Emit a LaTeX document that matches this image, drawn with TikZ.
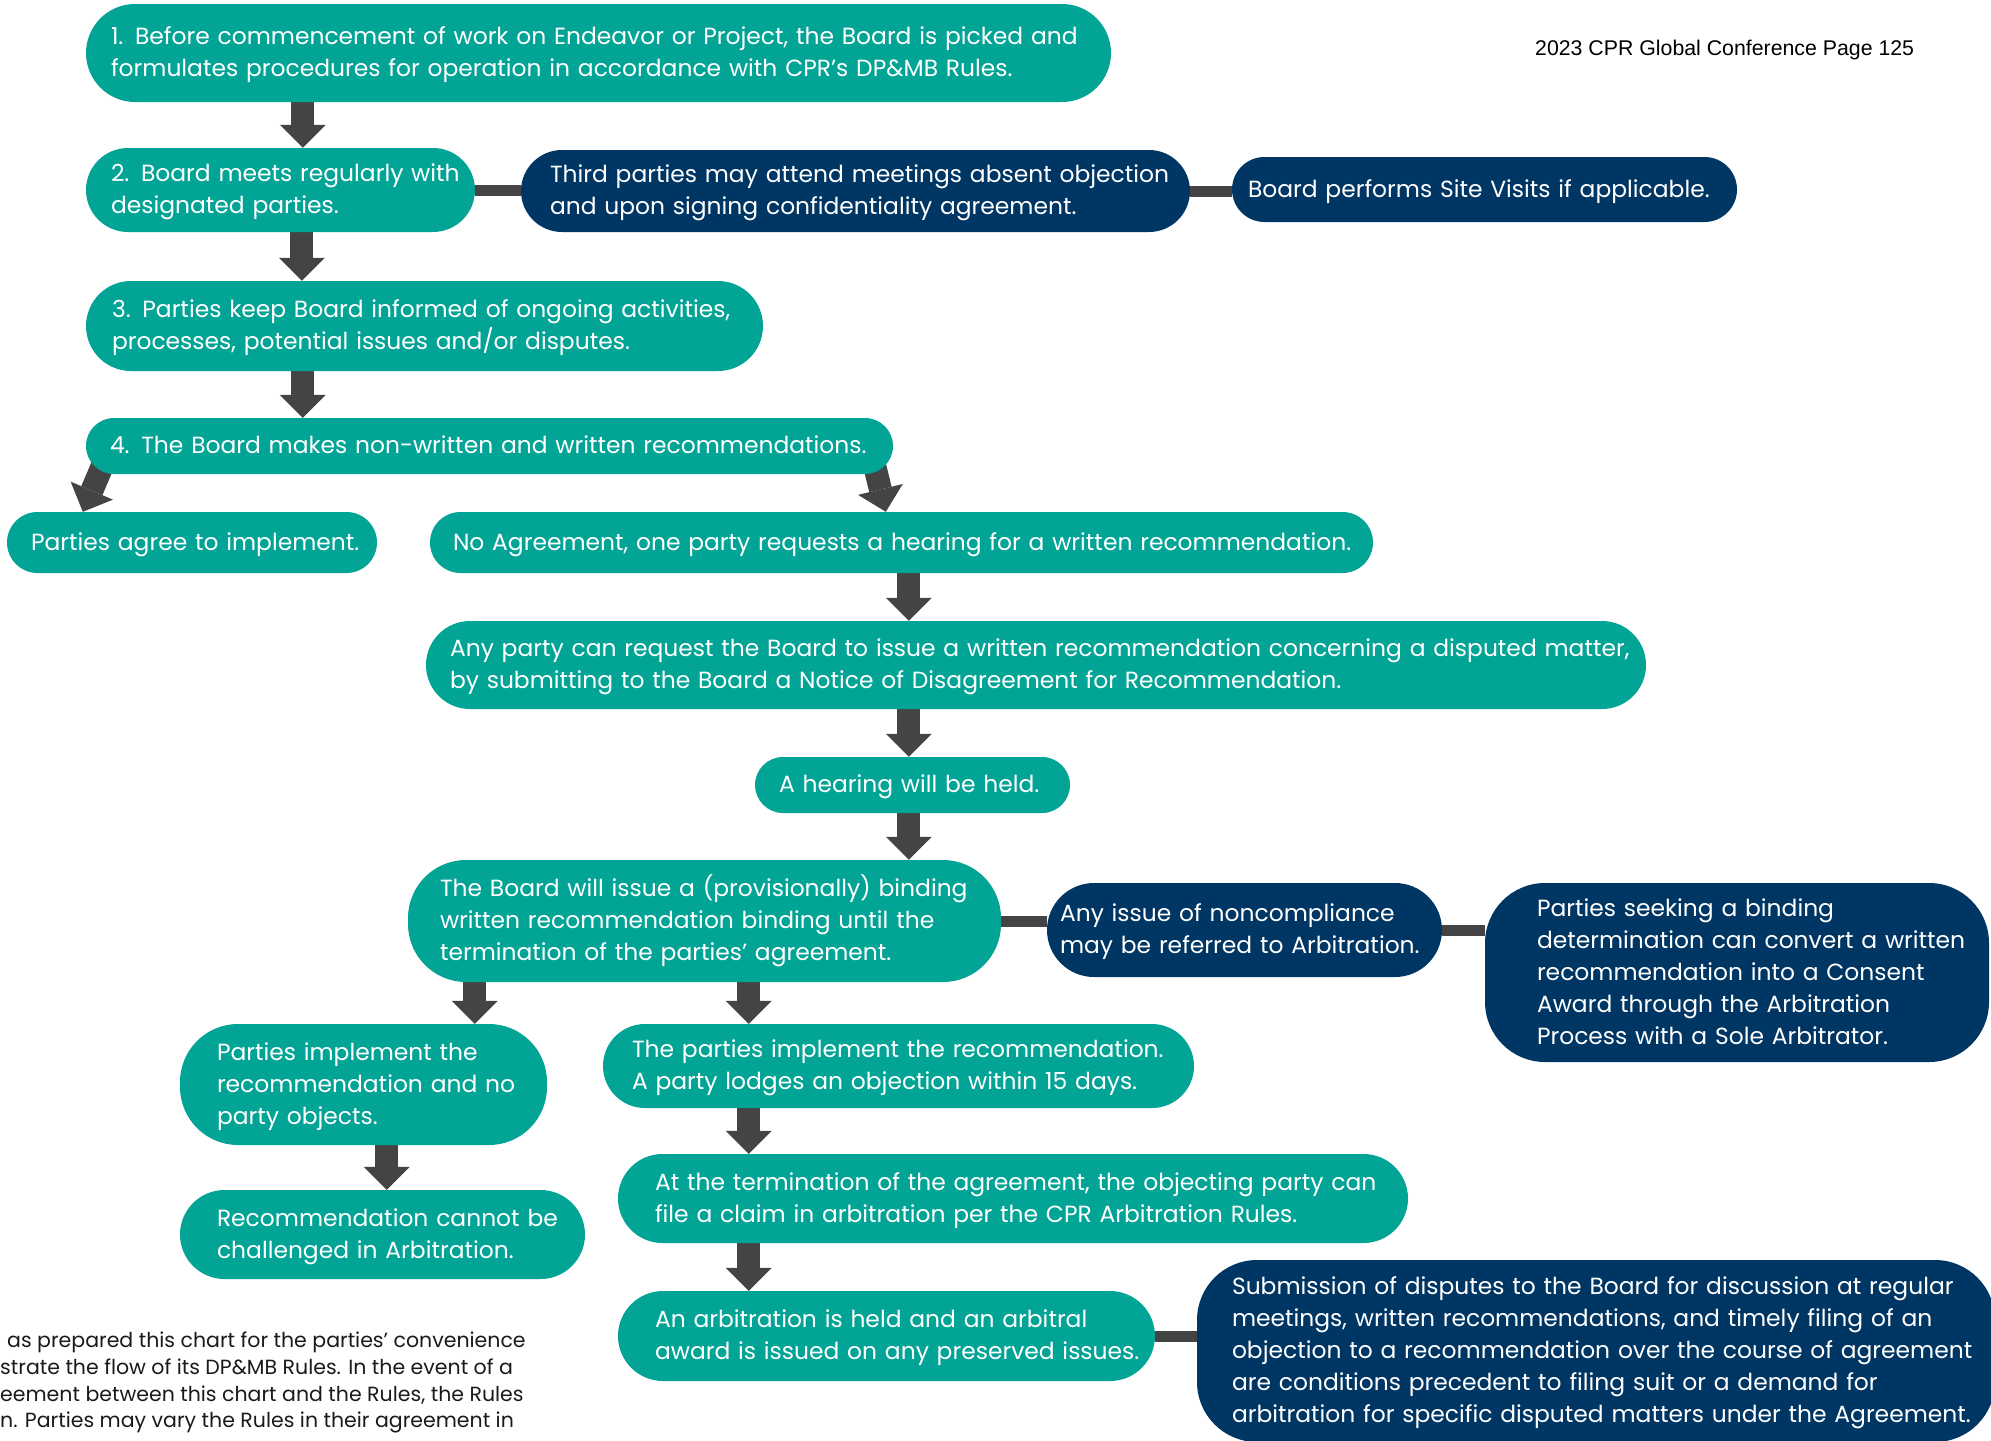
\documentclass[tikz,border=0pt]{standalone}
\usepackage{fontspec}
\setmainfont{Poppins}
\newfontfamily\hdrf{Liberation Sans}
\usetikzlibrary{arrows.meta,calc,backgrounds}
\definecolor{tealc}{RGB}{2,164,150}
\definecolor{navyc}{RGB}{0,54,99}
\definecolor{arrc}{RGB}{68,68,68}
\definecolor{notec}{RGB}{26,26,26}
\newcommand\T[1]{\raisebox{-1.5pt}[\height][\depth]{\begin{tabular}{@{}l@{}}#1\end{tabular}}}
\begin{document}
\begin{tikzpicture}[x=1pt,y=-1pt,
  box/.style={rectangle, inner ysep=0pt, align=left, text=white, font=\fontsize{23.4}{32}\selectfont},
  tealbox/.style={box, fill=tealc},
  navybox/.style={box, fill=navyc},
  arr/.style={draw=arrc, line width=23pt, -{Triangle[width=46pt,length=23pt,line width=0pt]}},
  bar/.style={draw=arrc, line width=11pt}]
\useasboundingbox (0,0) rectangle (1991,1440);
\clip (0,0) rectangle (1991,1440);

% header
\node[font=\hdrf\fontsize{21.3}{25}\selectfont, anchor=west, inner sep=0pt, text=black] (hdr) at (1535,50) {2023 CPR Global Conference Page 125};

% boxes
\node[tealbox, minimum width=1025pt, minimum height=98pt, text width=975pt, inner xsep=25pt, rounded corners=49pt] (b1) at (598.5,53)
  {\T{1. Before commencement of work on Endeavor or Project, the Board is picked and\\formulates procedures for operation in accordance with CPR’s DP\&MB Rules.}};
\node[tealbox, minimum width=389pt, minimum height=84pt, text width=339pt, inner xsep=25pt, rounded corners=42pt] (b2) at (280.5,190)
  {\T{2. Board meets regularly with\\designated parties.}};
\node[navybox, minimum width=669pt, minimum height=82pt, text width=611pt, inner xsep=29pt, rounded corners=41pt] (b2b) at (855.5,191)
  {\T{Third parties may attend meetings absent objection\\and upon signing confidentiality agreement.}};
\node[navybox, minimum width=505pt, minimum height=65pt, text width=473pt, inner xsep=16pt, rounded corners=32.5pt] (b2c) at (1484.5,189.5)
  {\T{Board performs Site Visits if applicable.}};
\node[tealbox, minimum width=677pt, minimum height=90pt, text width=625pt, inner xsep=26pt, rounded corners=45pt] (b3) at (424.5,326)
  {\T{3. Parties keep Board informed of ongoing activities,\\processes, potential issues and/or disputes.}};
\node[tealbox, minimum width=807pt, minimum height=56pt, text width=759pt, inner xsep=24pt, rounded corners=28pt] (b4) at (489.5,446)
  {\T{4. The Board makes non-written and written recommendations.}};
\node[tealbox, minimum width=370pt, minimum height=61pt, text width=322pt, inner xsep=24pt, rounded corners=30.5pt] (b5a) at (192,542.5)
  {\T{Parties agree to implement.}};
\node[tealbox, minimum width=943pt, minimum height=61pt, text width=897pt, inner xsep=23pt, rounded corners=30.5pt] (b5b) at (901.5,542.5)
  {\T{No Agreement, one party requests a hearing for a written recommendation.}};
\node[tealbox, minimum width=1220pt, minimum height=88pt, text width=1172pt, inner xsep=24pt, rounded corners=44pt] (b6) at (1036,665)
  {\T{Any party can request the Board to issue a written recommendation concerning a disputed matter,\\by submitting to the Board a Notice of Disagreement for Recommendation.}};
\node[tealbox, minimum width=315pt, minimum height=56pt, text width=267pt, inner xsep=24pt, rounded corners=28pt] (b7) at (912.5,785)
  {\T{A hearing will be held.}};
\node[tealbox, minimum width=593pt, minimum height=122pt, text width=529pt, inner xsep=32pt, rounded corners=58pt] (b8) at (704.5,921)
  {\T{The Board will issue a (provisionally) binding\\written recommendation binding until the\\termination of the parties’ agreement.}};
\node[navybox, minimum width=395pt, minimum height=94pt, text width=369pt, inner xsep=13pt, rounded corners=47pt] (b9) at (1244.5,930)
  {\T{Any issue of noncompliance\\may be referred to Arbitration.}};
\node[navybox, minimum width=504pt, minimum height=179pt, text width=400pt, inner xsep=52pt, rounded corners=60pt] (b10) at (1737,972.5)
  {\T{Parties seeking a binding\\determination can convert a written\\recommendation into a Consent\\Award through the Arbitration\\Process with a Sole Arbitrator.}};
\node[tealbox, minimum width=367pt, minimum height=121pt, text width=293pt, inner xsep=37pt, rounded corners=58pt] (b11) at (363.5,1084.5)
  {\T{Parties implement the\\recommendation and no\\party objects.}};
\node[tealbox, minimum width=405pt, minimum height=89pt, text width=331pt, inner xsep=37pt, rounded corners=44.5pt] (b12) at (382.5,1234.5)
  {\T{Recommendation cannot be\\challenged in Arbitration.}};
\node[tealbox, minimum width=591pt, minimum height=84pt, text width=533pt, inner xsep=29pt, rounded corners=42pt] (b13) at (898.5,1066)
  {\T{The parties implement the recommendation.\\A party lodges an objection within 15 days.}};
\node[tealbox, minimum width=790pt, minimum height=89pt, text width=716pt, inner xsep=37pt, rounded corners=44.5pt] (b14) at (1013,1198.5)
  {\T{At the termination of the agreement, the objecting party can\\file a claim in arbitration per the CPR Arbitration Rules.}};
\node[tealbox, minimum width=537pt, minimum height=90pt, text width=463pt, inner xsep=37pt, rounded corners=45pt] (b15) at (886.5,1336)
  {\T{An arbitration is held and an arbitral\\award is issued on any preserved issues.}};
\node[navybox, minimum width=798pt, minimum height=182pt, text width=728pt, inner xsep=35pt, rounded corners=60pt] (b16) at (1596,1351)
  {\T{Submission of disputes to the Board for discussion at regular\\meetings, written recommendations, and timely filing of an\\objection to a recommendation over the course of agreement\\are conditions precedent to filing suit or a demand for\\arbitration for specific disputed matters under the Agreement.}};

% note
\node[anchor=west, inner sep=0pt, align=left, text=notec, font=\fontsize{20.5}{26.7}\selectfont] (note) at (0,1381)
  {\T{\hspace*{7pt}as prepared this chart for the parties' convenience\\strate the flow of its DP\&MB Rules. In the event of a\\eement between this chart and the Rules, the Rules\\n. Parties may vary the Rules in their agreement in}};

\begin{scope}[on background layer]
% bars
\draw[bar] (b2.east) -- (b2.east -| b2b.west);
\draw[bar] (b2b.east) -- (b2b.east -| b2c.west);
\draw[bar] (b8.east) -- (b8.east -| b9.west);
\draw[bar] (b9.east) -- (b9.east -| b10.west);
\draw[bar] (b15.east) -- (b15.east -| b16.west);
% arrows
\draw[arr] ($(b1.south west)+(217,0)$) -- ($(b2.north west)+(217,0)$);
\draw[arr] ($(b2.south west)+(216,0)$) -- ($(b3.north west)+(216,0)$);
\draw[arr] ($(b3.south west)+(217,0)$) -- ($(b4.north west)+(217,0)$);
\draw[arr] ($(b4.south west)+(25,-28)$) -- ($(b5a.north west)+(76,0)$);
\draw[arr] ($(b4.south east)+(-24,-31)$) -- ($(b5b.north west)+(456,0)$);
\draw[arr] ($(b5b.south west)+(479,0)$) -- ($(b6.north west)+(483,0)$);
\draw[arr] ($(b6.south west)+(483,0)$) -- ($(b7.north west)+(154,0)$);
\draw[arr] ($(b7.south west)+(154,0)$) -- ($(b8.north west)+(501,0)$);
\draw[arr] ($(b8.south west)+(67,0)$) -- ($(b11.north west)+(295,0)$);
\draw[arr] ($(b8.south west)+(341,0)$) -- ($(b13.north west)+(146,0)$);
\draw[arr] ($(b11.south west)+(207,0)$) -- ($(b12.north west)+(207,0)$);
\draw[arr] ($(b13.south west)+(146,0)$) -- ($(b14.north west)+(131,0)$);
\draw[arr] ($(b14.south west)+(131,0)$) -- ($(b15.north west)+(131,0)$);
\end{scope}
\end{tikzpicture}
\end{document}
